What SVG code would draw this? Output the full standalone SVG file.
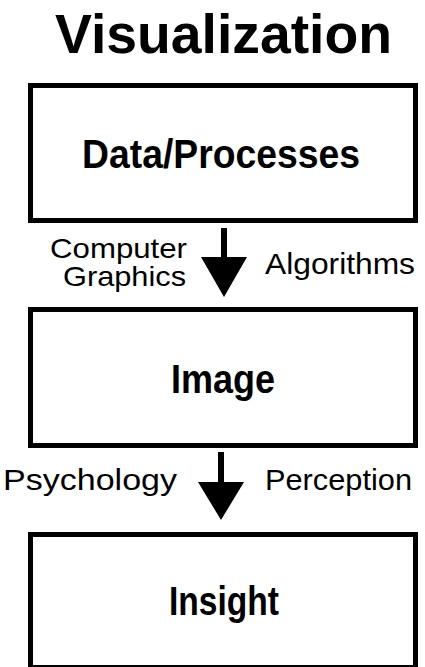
<svg xmlns="http://www.w3.org/2000/svg" width="425" height="667" viewBox="0 0 425 667">
<style>
.box{fill:#fff;stroke:#000;stroke-width:5}
.lbl{font-family:"Liberation Sans",Arial,sans-serif;font-weight:bold;font-size:40px;fill:#000;text-anchor:middle}
.sm{font-family:"Liberation Sans",Arial,sans-serif;font-size:30px;fill:#000}
.arr{fill:#000}
</style>
<rect width="425" height="667" fill="#fff"/>
<text id="title" x="223.5" y="53" style="font-family:'Liberation Sans',Arial,sans-serif;font-weight:bold;font-size:55px;text-anchor:middle" textLength="337" lengthAdjust="spacingAndGlyphs">Visualization</text>
<g id="data">
<rect class="box" x="30.5" y="85.5" width="385" height="135"/>
<text class="lbl" x="221" y="168" textLength="278" lengthAdjust="spacingAndGlyphs">Data/Processes</text>
</g>
<g id="image">
<rect class="box" x="30.5" y="309.5" width="385" height="136"/>
<text class="lbl" x="223" y="393" textLength="104" lengthAdjust="spacingAndGlyphs">Image</text>
</g>
<g id="insight">
<rect class="box" x="30.5" y="534.5" width="385" height="133"/>
<text class="lbl" x="224" y="615" textLength="110" lengthAdjust="spacingAndGlyphs">Insight</text>
</g>
<g id="connectors">
<polygon class="arr" points="221,228 227,228 227,257 247,257 224,297 201,257 221,257"/>
<polygon class="arr" points="218,452 224,452 224,482 244,482 221,520 198,482 218,482"/>
<text class="sm" text-anchor="end" style="font-size:28px"><tspan x="187" y="258" textLength="137" lengthAdjust="spacingAndGlyphs">Computer</tspan><tspan x="186" y="286" textLength="123" lengthAdjust="spacingAndGlyphs">Graphics</tspan></text>
<text class="sm" x="265" y="274" textLength="150" lengthAdjust="spacingAndGlyphs">Algorithms</text>
<text class="sm" x="3" y="490" textLength="174" lengthAdjust="spacingAndGlyphs">Psychology</text>
<text class="sm" x="265" y="490" textLength="147" lengthAdjust="spacingAndGlyphs">Perception</text>
</g>
</svg>
